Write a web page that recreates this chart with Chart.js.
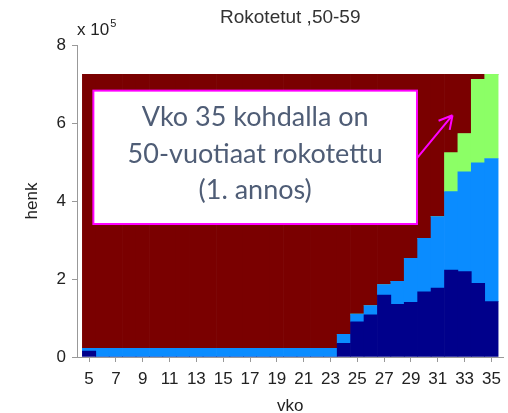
<!DOCTYPE html>
<html>
<head>
<meta charset="utf-8">
<script src="https://cdn.jsdelivr.net/npm/chart.js@4.4.0/dist/chart.umd.min.js"></script>
<style>
  html, body { margin: 0; padding: 0; background: #fff; overflow: hidden; }
  #wrap { width: 508px; height: 425px; }
</style>
</head>
<body>
<div id="wrap"><canvas id="chart" width="508" height="425"></canvas></div>
<script>
// --- DATA (persons, weeks 5..35) ---
const weeks = [5, 6, 7, 8, 9, 10, 11, 12, 13, 14, 15, 16, 17, 18, 19, 20,
               21, 22, 23, 24, 25, 26, 27, 28, 29, 30, 31, 32, 33, 34, 35];
const tickWeeks = [5, 7, 9, 11, 13, 15, 17, 19, 21, 23, 25, 27, 29, 31, 33, 35];
const yTicks = [0, 200000, 400000, 600000, 800000];

const navy = [15000, 0, 0, 0, 0, 0, 0, 0, 0, 0, 0, 0, 0, 0, 0, 0,
              0, 0, 0, 35000, 90000, 108000, 159000, 135000, 140000, 167000,
              177000, 223000, 219000, 189000, 142000];
const lightBlue = [7000, 22000, 22000, 22000, 22000, 22000, 22000, 22000, 22000, 22000,
                   22000, 22000, 22000, 22000, 22000, 22000, 22000, 22000, 22000,
                   23000, 20000, 24000, 27000, 59000, 113000, 137000, 183000,
                   201000, 256000, 309000, 367000];
const green = [0, 0, 0, 0, 0, 0, 0, 0, 0, 0, 0, 0, 0, 0, 0, 0,
               0, 0, 0, 0, 0, 0, 0, 0, 0, 0, 0, 100000, 98000, 214000, 216000];
const darkRed = [703000, 703000, 703000, 703000, 703000, 703000, 703000, 703000,
                 703000, 703000, 703000, 703000, 703000, 703000, 703000, 703000,
                 703000, 703000, 703000, 667000, 615000, 593000, 539000, 531000,
                 472000, 421000, 365000, 201000, 152000, 13000, 0];

const noteLines = ['Vko 35 kohdalla on', '50-vuotiaat rokotettu', '(1. annos)'];

const FONT = "'Liberation Sans', Arial, sans-serif";
const MAGENTA = '#ff00ff';

const toPoints = arr => weeks.map((w, i) => ({ x: w, y: arr[i] }));

// --- ANNOTATION (text box + arrow) ---
const notePlugin = {
    id: 'note',
    afterDatasetsDraw(chart) {
        const { ctx, scales: { x, y } } = chart;
        const left = x.getPixelForValue(5.32);
        const right = x.getPixelForValue(29.45);
        const top = y.getPixelForValue(683000);
        const bottom = y.getPixelForValue(341000);

        ctx.save();
        ctx.fillStyle = '#fff';
        ctx.fillRect(left, top, right - left, bottom - top);
        ctx.strokeStyle = MAGENTA;
        ctx.lineWidth = 2;
        ctx.strokeRect(left, top, right - left, bottom - top);

        ctx.fillStyle = '#4f5d76';
        ctx.font = "27px Lato, 'Open Sans', sans-serif";
        ctx.textAlign = 'center';
        ctx.textBaseline = 'alphabetic';
        const cx = (left + right) / 2;
        [35, 72, 108].forEach((dy, i) => ctx.fillText(noteLines[i], cx, top + dy));

        // arrow
        const x0 = right, y0 = y.getPixelForValue(510000);
        const x1 = x.getPixelForValue(32.1), y1 = y.getPixelForValue(620000);
        ctx.beginPath();
        ctx.moveTo(x0, y0);
        ctx.lineTo(x1, y1);
        const ang = Math.atan2(y1 - y0, x1 - x0);
        const head = 15;
        ctx.moveTo(x1, y1);
        ctx.lineTo(x1 - head * Math.cos(ang - 0.5), y1 - head * Math.sin(ang - 0.5));
        ctx.moveTo(x1, y1);
        ctx.lineTo(x1 - head * Math.cos(ang + 0.5), y1 - head * Math.sin(ang + 0.5));
        ctx.stroke();
        ctx.restore();
    },
    afterDraw(chart) {
        // "x 10^5" exponent label above the y axis
        const { ctx, chartArea } = chart;
        ctx.save();
        ctx.fillStyle = '#222';
        ctx.textBaseline = 'alphabetic';
        ctx.textAlign = 'left';
        ctx.font = '17px ' + FONT;
        const base = 'x 10';
        ctx.fillText(base, chartArea.left, 35);
        const w = ctx.measureText(base).width;
        ctx.font = '11px ' + FONT;
        ctx.fillText('5', chartArea.left + w + 1, 27);
        ctx.restore();
    }
};

new Chart(document.getElementById('chart'), {
    type: 'bar',
    data: {
        datasets: [
            { label: 'navy', data: toPoints(navy), backgroundColor: '#00008b' },
            { label: 'lightBlue', data: toPoints(lightBlue), backgroundColor: '#0a8cff' },
            { label: 'green', data: toPoints(green), backgroundColor: '#8cff66' },
            { label: 'darkRed', data: toPoints(darkRed), backgroundColor: '#7a0000' }
        ]
    },
    options: {
        responsive: false,
        animation: false,
        layout: { padding: { top: 0, right: 3, left: 0, bottom: 0 } },
        datasets: { bar: { barPercentage: 1, categoryPercentage: 1, borderWidth: 0 } },
        plugins: {
            legend: { display: false },
            tooltip: { enabled: false },
            title: {
                display: true,
                fullSize: false,
                text: 'Rokotetut ,50-59',
                color: '#333',
                font: { family: FONT, size: 19, weight: 'normal' },
                padding: { top: 6, bottom: 16.2 }
            }
        },
        scales: {
            x: {
                type: 'linear',
                stacked: true,
                offset: false,
                min: 4.1,
                max: 35.9,
                afterBuildTicks: s => { s.ticks = tickWeeks.map(v => ({ value: v })); },
                afterFit: s => { s.height = 68; },
                grid: { offset: false, drawOnChartArea: false, drawTicks: true, tickLength: 5, color: '#999', tickColor: '#999' },
                border: { color: '#999', width: 1 },
                ticks: { color: '#222', font: { family: FONT, size: 17 }, padding: 7, maxRotation: 0, autoSkip: false },
                title: { display: true, text: 'vko', color: '#222', font: { family: FONT, size: 17 }, padding: { bottom: 8 } }
            },
            y: {
                stacked: true,
                min: 0,
                max: 800000,
                afterBuildTicks: s => { s.ticks = yTicks.map(v => ({ value: v })); },
                afterFit: s => { s.width = 77; },
                grid: { drawOnChartArea: false, drawTicks: true, tickLength: 5, color: '#999', tickColor: '#999' },
                border: { color: '#999', width: 1 },
                ticks: { color: '#222', font: { family: FONT, size: 17 }, padding: 6, callback: v => v / 100000 },
                title: { display: true, text: 'henk', color: '#222', font: { family: FONT, size: 17 }, padding: { top: 22 } }
            }
        }
    },
    plugins: [notePlugin]
});
</script>
</body>
</html>
